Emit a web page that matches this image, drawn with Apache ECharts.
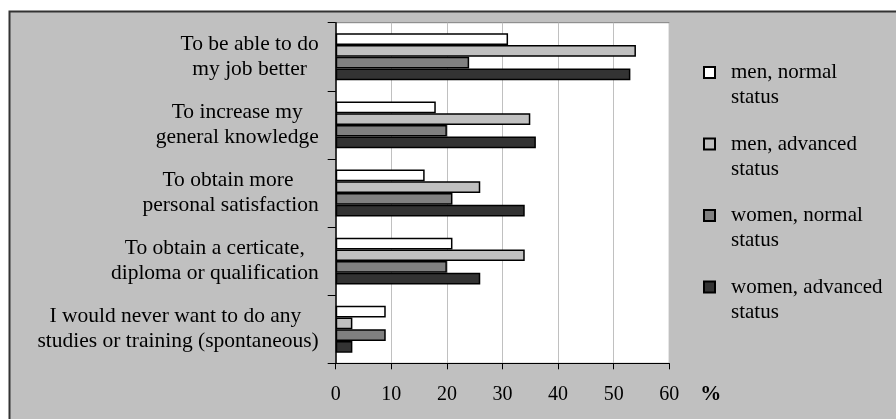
<!DOCTYPE html>
<html>
<head>
<meta charset="utf-8">
<script src="https://cdn.jsdelivr.net/npm/echarts@6/dist/echarts.min.js"></script>
<style>
  html, body { margin: 0; padding: 0; background: #fff; }
  #chart { width: 896px; height: 419px; }
</style>
</head>
<body>
<div id="chart"></div>
<script>
// reasons for (not) wanting to do studies / training, % by gender and status
const categories = [
    ['To be able to do', 'my job better'],
    ['To increase my', 'general knowledge'],
    ['To obtain more ', 'personal satisfaction'],
    ['To obtain a certicate,', 'diploma or qualification'],
    ['I would never want to do any ', 'studies or training (spontaneous)']
];
const menNormal = [31, 18, 16, 21, 9];
const menAdvanced = [54, 35, 26, 34, 3];
const womenNormal = [24, 20, 21, 20, 9];
const womenAdvanced = [53, 36, 34, 26, 3];

const seriesNames = ['men, normal status', 'men, advanced status', 'women, normal status', 'women, advanced status'];
const legendLabels = [['men, normal', 'status'], ['men, advanced', 'status'], ['women, normal', 'status'], ['women, advanced', 'status']];
const seriesColors = ['#ffffff', '#c0c0c0', '#808080', '#333333'];
const xMin = 0, xMax = 60, xStep = 10;
const unitLabel = '%';

const FONT = '"Liberation Serif", "Times New Roman", serif';

const chart = echarts.init(document.getElementById('chart'));

const catNames = categories.map(c => c.join('\n'));
const values = [menNormal, menAdvanced, womenNormal, womenAdvanced];

// legend text: blank first line so the first real line sits level with the icon,
// plus a spacer token to push the text away from the icon
function legendText(name) {
    const lines = legendLabels[seriesNames.indexOf(name)];
    return '{t| }\n' + lines.map(s => '{g| }{t|' + s + '}').join('\n');
}

const option = {
    animation: false,
    textStyle: { fontFamily: FONT },
    graphic: [{
        type: 'rect',
        z: -10,
        shape: { x: 9.5, y: 11.5, width: 1000, height: 1000 },
        style: { fill: '#c0c0c0', stroke: '#333333', lineWidth: 2 }
    }],
    grid: {
        left: 335.7, top: 22.7, right: 226.7, bottom: 55.7,
        outerBoundsMode: 'none',
        show: true, backgroundColor: '#ffffff', borderColor: '#808080', borderWidth: 1
    },
    legend: {
        orient: 'vertical',
        left: 703, top: 37,
        padding: 0,
        itemGap: 0.5,
        itemWidth: 11, itemHeight: 11,
        icon: 'rect',
        data: seriesNames,
        formatter: legendText,
        textStyle: {
            color: '#000',
            rich: {
                t: { fontFamily: FONT, fontSize: 21, lineHeight: 25, color: '#000' },
                g: { width: 11, fontSize: 21, lineHeight: 25 }
            }
        }
    },
    xAxis: {
        type: 'value',
        min: xMin, max: xMax, interval: xStep,
        name: unitLabel,
        nameLocation: 'end',
        nameGap: 31,
        nameTextStyle: { fontFamily: FONT, fontSize: 21, fontWeight: 'bold', color: '#000', verticalAlign: 'top', lineHeight: 62 },
        axisLine: { show: true, lineStyle: { color: '#000', width: 1 } },
        axisTick: { show: true, length: 6, lineStyle: { color: '#000' } },
        axisLabel: { fontFamily: FONT, fontSize: 20, color: '#000', margin: 21 },
        splitLine: { show: true, lineStyle: { color: '#c0c0c0', width: 1 } }
    },
    yAxis: {
        type: 'category',
        inverse: true,
        data: catNames,
        axisLine: { show: true, lineStyle: { color: '#000', width: 1.5 } },
        axisTick: { show: true, length: 8, lineStyle: { color: '#000' } },
        axisLabel: {
            margin: 17,
            formatter: v => v.split('\n').map(s => '{c|' + s + '}').join('\n'),
            rich: { c: { fontFamily: FONT, fontSize: 21.5, lineHeight: 25, color: '#000', align: 'center' } }
        },
        splitLine: { show: false }
    },
    series: seriesNames.map((name, i) => ({
        name: name,
        type: 'bar',
        data: values[i],
        barWidth: 11.7,
        barGap: '0%',
        itemStyle: { color: seriesColors[i], borderColor: '#000', borderWidth: 1.5 }
    }))
};
chart.setOption(option);
</script>
</body>
</html>
